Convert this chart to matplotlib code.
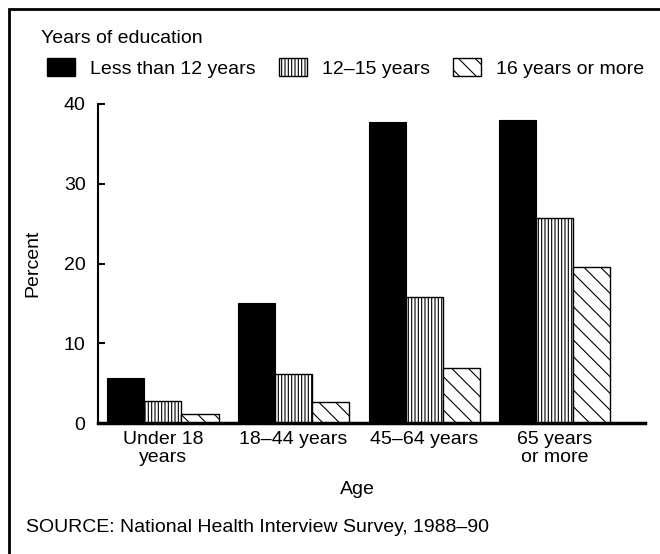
import numpy as np
import matplotlib
matplotlib.use("Agg")
import matplotlib.pyplot as plt
from matplotlib.patches import Patch, Rectangle

plt.rcParams['font.family'] = ['Liberation Sans', 'DejaVu Sans']
plt.rcParams['font.size'] = 14
plt.rcParams['hatch.linewidth'] = 0.8
plt.rcParams['hatch.color'] = 'black'

# data
age_groups = ['Under 18\nyears', '18\u201344 years', '45\u201364 years', '65 years\nor more']
less_than_12 = [5.7, 15.0, 37.7, 38.0]
years_12_15 = [2.7, 6.1, 15.8, 25.7]
years_16_plus = [1.1, 2.6, 6.9, 19.5]
series_names = ['Less than 12 years', '12\u201315 years', '16 years or more']

fig = plt.figure(figsize=(6.6, 5.54), dpi=100)
ax = fig.add_axes([98/660, 1-423/554, (645-98)/660, (423-104)/554])

x = np.arange(len(age_groups))
w = 0.2835
ax.bar(x - w, less_than_12, w, color='black', edgecolor='black', linewidth=0.8)
ax.bar(x, years_12_15, w, color='white', edgecolor='black', hatch='|||||', linewidth=1.0)
ax.bar(x + w, years_16_plus, w, color='white', edgecolor='black', hatch='\\\\', linewidth=1.0)

ax.set_xlim(-0.498, 3.693)
ax.set_ylim(0, 40)
ax.set_yticks([0, 10, 20, 30, 40])
ax.set_xticks(x)
ax.set_xticklabels(age_groups, linespacing=1.05)
ax.tick_params(axis='x', length=0, pad=6)
ax.tick_params(axis='y', direction='in', length=5, width=1.5, pad=9)

for s in ['top', 'right']:
    ax.spines[s].set_visible(False)
ax.spines['left'].set_linewidth(1.5)
ax.spines['bottom'].set_linewidth(2.5)

fig.text(33/660, 1-263/554, 'Percent', rotation=90, ha='center', va='center')
fig.text(357/660, 1-490/554, 'Age', ha='center', va='center')
fig.text(26/660, 1-527/554, 'SOURCE: National Health Interview Survey, 1988\u201390',
         ha='left', va='center')
fig.text(41/660, 1-43/554, 'Years of education', ha='left', va='baseline')

handles = [Patch(facecolor='black', edgecolor='black'),
           Patch(facecolor='white', edgecolor='black', hatch='|||||'),
           Patch(facecolor='white', edgecolor='black', hatch='\\\\')]
fig.legend(handles, series_names, loc='center left', bbox_to_anchor=(47/660, 1-68/554),
           ncol=3, frameon=False, borderpad=0, borderaxespad=0,
           handlelength=1.45, handleheight=1.03, handletextpad=0.75, columnspacing=1.2)

frame = Rectangle((9/660, -0.05), 1.1, (1-9/554)+0.05, transform=fig.transFigure,
                  fill=False, edgecolor='black', linewidth=2)
fig.patches.append(frame)

fig.savefig('out.png', dpi=100)
